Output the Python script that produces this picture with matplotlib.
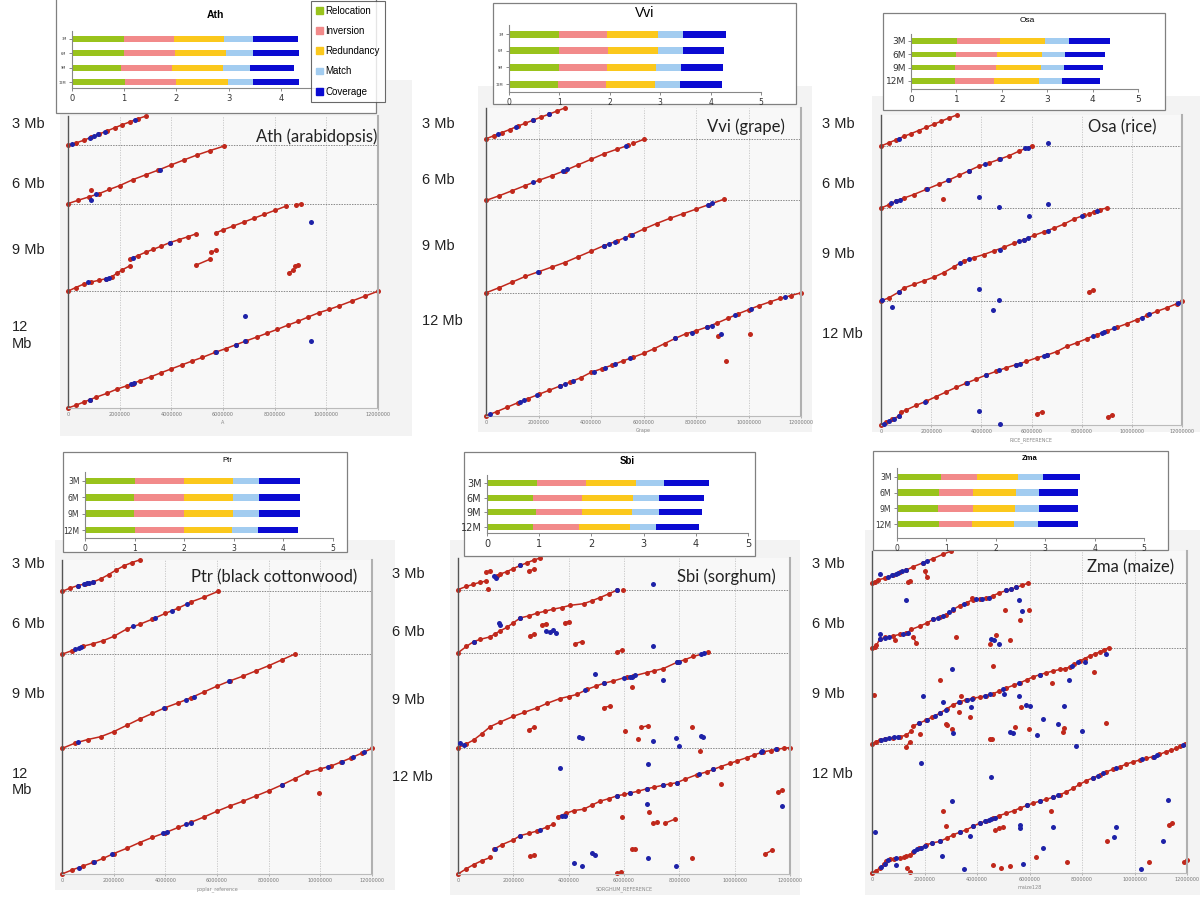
import matplotlib
matplotlib.use('Agg')
import matplotlib.pyplot as plt
from matplotlib.patches import Rectangle, Patch

# ---------------- data ----------------
# dotplot y axis: the four query chunks are stacked, 12 Mb at the bottom
seg_base = {12: 0, 9: 12, 6: 21, 3: 27}

# runs of red alignment dots (segment, [(x Mb, y Mb within segment), ...])
ath_runs = [
    (12, [(0, 0), (0.3, 0.28), (0.6, 0.6), (0.85, 0.86), (1.1, 1.12), (1.5, 1.5), (1.9, 1.95), (2.3, 2.3),
          (2.5, 2.5), (2.8, 2.82), (3.2, 3.2), (3.6, 3.62), (4.0, 4.02), (4.4, 4.42), (4.8, 4.82), (5.2, 5.2),
          (5.7, 5.72), (6.1, 6.1), (6.5, 6.5), (6.9, 6.9), (7.3, 7.28), (7.7, 7.68), (8.1, 8.08), (8.5, 8.5),
          (8.9, 8.9), (9.3, 9.35), (9.7, 9.78), (10.1, 10.12), (10.5, 10.5), (11.0, 11.0), (11.5, 11.5), (12.0, 12.0)]),
    (9, [(0, 0), (0.3, 0.38), (0.6, 0.72), (0.9, 0.95), (1.2, 1.12), (1.48, 1.29), (1.7, 1.5), (1.9, 1.85),
         (2.1, 2.2), (2.39, 2.6)]),
    (9, [(2.39, 3.3), (2.7, 3.65), (3.0, 4.0), (3.3, 4.3), (3.6, 4.62), (3.94, 4.99), (4.3, 5.3), (4.65, 5.6), (4.97, 5.91)]),
    (9, [(5.72, 5.98), (6.0, 6.3), (6.4, 6.7), (6.8, 7.1), (7.2, 7.5), (7.6, 7.9), (8.0, 8.3), (8.45, 8.75)]),
    (9, [(8.84, 8.9), (9.03, 8.95)]),
    (9, [(4.94, 2.66), (5.48, 3.27)]),
    (9, [(5.55, 4.03), (5.74, 4.2)]),
    (9, [(8.55, 1.87), (8.7, 2.14)]),
    (9, [(8.77, 2.55), (8.9, 2.73)]),
    (6, [(0, 0), (0.4, 0.35), (0.8, 0.68), (1.2, 1.02), (1.6, 1.45), (2.0, 1.85), (2.5, 2.45), (3.0, 2.95),
         (3.5, 3.45), (4.0, 3.98), (4.5, 4.5), (5.0, 5.0), (5.5, 5.45), (6.03, 5.9)]),
    (6, [(0.9, 1.43)]),
    (3, [(0, 0), (0.3, 0.22), (0.6, 0.5), (0.9, 0.82), (1.2, 1.15), (1.5, 1.45), (1.8, 1.78), (2.1, 2.1),
         (2.4, 2.4), (2.7, 2.72), (3.03, 3.0)]),
]
ath_blue = [(12, 0.84, 0.85), (12, 2.45, 2.45), (12, 2.55, 2.56), (12, 5.74, 5.76), (12, 6.5, 6.5),
            (12, 6.85, 6.88), (12, 6.86, 9.45), (12, 9.42, 6.88),
            (9, 0.77, 0.9), (9, 1.48, 1.29), (9, 1.6, 1.4), (9, 2.52, 3.4), (9, 3.94, 4.99), (9, 9.42, 7.1),
            (6, 1.1, 1.0), (6, 3.55, 3.5), (6, 0.88, 0.4),
            (3, 0.17, 0.13), (3, 0.85, 0.78), (3, 1.0, 0.95), (3, 1.15, 1.1), (3, 1.45, 1.4), (3, 2.6, 2.62)]

vvi_runs = [
    (12, [(0, 0), (0.4, 0.42), (0.8, 0.85), (1.2, 1.28), (1.6, 1.7), (2.0, 2.1), (2.4, 2.5), (2.8, 2.9),
          (3.2, 3.3), (3.6, 3.72), (4.0, 4.25), (4.4, 4.6), (4.8, 4.95), (5.2, 5.35), (5.6, 5.72), (6.0, 6.1),
          (6.4, 6.55), (6.8, 7.05), (7.2, 7.55), (7.6, 8.0), (8.0, 8.3), (8.4, 8.65), (8.8, 9.05), (9.2, 9.5),
          (9.6, 9.95), (10.0, 10.35), (10.4, 10.75), (10.8, 11.1), (11.2, 11.45), (11.6, 11.72), (12.0, 12.0)]),
    (12, [(8.85, 7.8)]), (12, [(9.15, 5.39)]), (12, [(10.04, 8.0)]),
    (9, [(0, 0), (0.5, 0.5), (1.0, 1.05), (1.5, 1.6), (2.0, 2.05), (2.5, 2.5), (3.0, 2.95), (3.5, 3.5),
         (4.0, 4.05), (4.5, 4.6), (5.0, 5.05), (5.5, 5.6), (6.0, 6.2), (6.5, 6.75), (7.0, 7.25), (7.5, 7.7),
         (8.0, 8.15), (8.5, 8.6), (9.05, 9.1)]),
    (6, [(0, 0), (0.5, 0.45), (1.0, 0.95), (1.5, 1.45), (2.0, 1.95), (2.5, 2.4), (3.0, 2.9), (3.5, 3.45),
         (4.0, 4.0), (4.5, 4.55), (5.0, 5.0), (5.4, 5.35)]),
    (6, [(5.6, 5.55), (6.03, 5.96)]),
    (3, [(0, 0), (0.3, 0.3), (0.6, 0.6), (0.9, 0.9), (1.2, 1.22), (1.5, 1.52), (1.8, 1.82), (2.1, 2.12),
         (2.4, 2.4), (2.7, 2.7), (3.0, 3.0)]),
]
vvi_blue = [(12, 0.15, 0.15), (12, 1.3, 1.38), (12, 1.45, 1.55), (12, 1.95, 2.05), (12, 2.8, 2.9), (12, 3.0, 3.1),
            (12, 3.3, 3.4), (12, 4.1, 4.3), (12, 4.55, 4.7), (12, 4.9, 5.05), (12, 5.5, 5.65), (12, 7.2, 7.55),
            (12, 7.85, 8.1), (12, 8.4, 8.65), (12, 8.6, 8.8), (12, 9.5, 9.85), (12, 10.1, 10.4), (12, 11.4, 11.6),
            (12, 8.96, 7.97),
            (9, 1.98, 2.05), (9, 4.5, 4.6), (9, 4.7, 4.75), (9, 4.9, 4.95), (9, 5.3, 5.35), (9, 5.55, 5.6),
            (9, 8.45, 8.55), (9, 8.6, 8.7),
            (6, 1.8, 1.75), (6, 2.95, 2.9), (6, 3.1, 3.05), (6, 5.35, 5.3),
            (3, 0.45, 0.45), (3, 1.15, 1.17), (3, 1.8, 1.82), (3, 2.4, 2.42)]

osa_runs = [
    (12, [(0, 0), (0.2, 0.25), (0.45, 0.55), (0.7, 0.85), (0.8, 1.25), (1.0, 1.45), (1.4, 1.9), (1.8, 2.3),
          (2.2, 2.75), (2.6, 3.2), (3.0, 3.65), (3.4, 4.05), (3.8, 4.45), (4.2, 4.85), (4.6, 5.2), (5.0, 5.55),
          (5.4, 5.85), (5.8, 6.15), (6.2, 6.5), (6.6, 6.75), (7.0, 7.1), (7.4, 7.6), (7.8, 7.95), (8.2, 8.35),
          (8.6, 8.75), (9.0, 9.1), (9.4, 9.45), (9.8, 9.8), (10.2, 10.2), (10.6, 10.6), (11.0, 11.0),
          (11.4, 11.35), (11.8, 11.75), (12.0, 12.0)]),
    (12, [(6.2, 1.06), (6.43, 1.29)]), (12, [(9.03, 0.74), (9.19, 0.97)]),
    (9, [(0, 0), (0.3, 0.3), (0.7, 0.85), (0.9, 1.25), (1.3, 1.6), (1.7, 1.95), (2.1, 2.3), (2.5, 2.75),
         (2.9, 3.3), (3.3, 3.9), (3.7, 4.2), (4.1, 4.5), (4.5, 4.85), (4.9, 5.2), (5.3, 5.6), (5.7, 5.95),
         (6.1, 6.35), (6.5, 6.7), (6.9, 7.05), (7.3, 7.45), (7.7, 7.95), (8.1, 8.3)]),
    (9, [(8.3, 8.42), (8.5, 8.65), (8.75, 8.85), (9.0, 9.0)]),
    (9, [(8.3, 0.9), (8.46, 1.06)]),
    (6, [(0, 0), (0.3, 0.3), (0.6, 0.7), (0.9, 0.95), (1.3, 1.3), (1.8, 1.8), (2.3, 2.3), (2.7, 2.7),
         (3.1, 3.15), (3.5, 3.6), (3.9, 4.05), (4.3, 4.35), (4.7, 4.7), (5.1, 5.05), (5.5, 5.5), (6.0, 6.0)]),
    (6, [(2.47, 0.87)]),
    (3, [(0, 0), (0.3, 0.3), (0.6, 0.6), (0.9, 0.92), (1.2, 1.2), (1.5, 1.5), (1.8, 1.8), (2.1, 2.1),
         (2.4, 2.4), (2.7, 2.7), (3.02, 3.0)]),
]
osa_blue = [(12, 0.1, 0.12), (12, 0.3, 0.38), (12, 0.5, 0.62), (12, 0.7, 0.85), (12, 1.75, 2.25), (12, 3.42, 4.07),
            (12, 4.2, 4.85), (12, 4.7, 5.28), (12, 5.4, 5.85), (12, 5.55, 5.95), (12, 6.5, 6.68), (12, 6.6, 6.75),
            (12, 8.45, 8.6), (12, 8.8, 8.95), (12, 8.9, 9.02), (12, 9.3, 9.38), (12, 10.4, 10.4), (12, 10.7, 10.7),
            (12, 11.85, 11.8), (12, 3.91, 1.35), (12, 4.75, 0.06), (12, 0.45, 11.45), (12, 4.48, 11.1),
            (9, 0.05, 0.05), (9, 0.7, 0.86), (9, 3.15, 3.7), (9, 3.5, 4.05), (9, 4.75, 4.95), (9, 5.5, 5.85),
            (9, 5.7, 5.95), (9, 5.85, 6.05), (9, 6.65, 6.82), (9, 8.0, 8.25), (9, 8.6, 8.7),
            (9, 3.89, 1.13), (9, 4.72, 0.06), (9, 5.9, 8.2),
            (6, 0.4, 0.45), (6, 0.6, 0.7), (6, 0.75, 0.8), (6, 1.83, 1.83), (6, 2.69, 2.69), (6, 3.49, 3.6),
            (6, 4.15, 4.24), (6, 4.75, 4.7), (6, 5.75, 5.78), (6, 5.85, 5.85),
            (6, 3.89, 1.1), (6, 4.72, 0.13), (6, 6.64, 0.42),
            (3, 0.7, 0.72), (3, 6.64, 0.3)]

ptr_runs = [
    (12, [(0, 0), (0.4, 0.4), (0.8, 0.75), (1.2, 1.1), (1.6, 1.5), (2.0, 1.95), (2.5, 2.45), (3.0, 3.0),
          (3.5, 3.5), (4.0, 3.95), (4.5, 4.45), (5.0, 4.95), (5.5, 5.45), (6.0, 6.0), (6.5, 6.5), (7.0, 6.95),
          (7.5, 7.45), (8.0, 7.95), (8.5, 8.5), (9.0, 9.1), (9.5, 9.7), (10.0, 10.05), (10.4, 10.3),
          (10.8, 10.7), (11.2, 11.1), (11.6, 11.55), (12.0, 12.0)]),
    (12, [(9.95, 7.74)]),
    (9, [(0, 0), (0.5, 0.5), (1.0, 0.85), (1.5, 1.12), (2.0, 1.6), (2.5, 2.2), (3.0, 2.8), (3.5, 3.35),
         (4.0, 3.9), (4.5, 4.35), (5.0, 4.85), (5.5, 5.4), (6.0, 5.95), (6.5, 6.45), (7.0, 6.9), (7.5, 7.4),
         (8.0, 7.9), (8.5, 8.45), (9.0, 9.0)]),
    (6, [(0, 0), (0.4, 0.35), (0.8, 0.75), (1.2, 1.0), (1.6, 1.3), (2.0, 1.7), (2.5, 2.4), (3.0, 2.85),
         (3.5, 3.35), (4.0, 3.9), (4.5, 4.4), (5.0, 5.0), (5.5, 5.45), (6.04, 6.0)]),
    (3, [(0, 0), (0.3, 0.3), (0.6, 0.55), (0.9, 0.72), (1.2, 0.9), (1.5, 1.2), (1.8, 1.6), (2.1, 2.05),
         (2.4, 2.45), (2.7, 2.75), (3.0, 3.0)]),
]
ptr_blue = [(12, 0.65, 0.6), (12, 1.25, 1.15), (12, 1.95, 1.9), (12, 3.9, 3.88), (12, 4.05, 4.0), (12, 4.8, 4.75),
            (12, 5.0, 4.9), (12, 8.5, 8.5), (12, 10.3, 10.25), (12, 10.85, 10.7), (12, 11.25, 11.15),
            (12, 11.7, 11.65),
            (9, 0.6, 0.6), (9, 3.95, 3.85), (9, 4.8, 4.65), (9, 5.1, 4.95), (9, 6.45, 6.42),
            (6, 0.5, 0.45), (6, 0.65, 0.6), (6, 0.75, 0.7), (6, 2.75, 2.65), (6, 3.6, 3.45), (6, 4.25, 4.15),
            (6, 4.85, 4.8),
            (3, 0.6, 0.55), (3, 0.85, 0.7), (3, 0.95, 0.78), (3, 1.05, 0.85), (3, 1.2, 0.9)]

sbi_runs = [
    (12, [(0, 0), (0.3, 0.5), (0.57, 0.9), (0.85, 1.25), (1.17, 1.57)]),
    (12, [(1.3, 2.35), (1.6, 2.8), (2.0, 3.24), (2.25, 3.65), (2.55, 3.85), (2.85, 4.08), (3.21, 4.45), (3.45, 4.75)]),
    (12, [(3.6, 5.45), (3.9, 5.75), (4.18, 6.02), (4.54, 6.15), (4.85, 6.55), (5.14, 6.92), (5.45, 7.15),
          (5.74, 7.42), (6.0, 7.55), (6.22, 7.69), (6.5, 7.85), (6.82, 8.09), (7.1, 8.25), (7.42, 8.43),
          (7.65, 8.55), (7.9, 8.66), (8.2, 9.0), (8.63, 9.43), (9.0, 9.7), (9.23, 9.93), (9.5, 10.2),
          (9.83, 10.5), (10.1, 10.75), (10.43, 11.04), (10.7, 11.3), (11.03, 11.6), (11.3, 11.72),
          (11.52, 11.84), (11.8, 11.95), (12.0, 12.0)]),
    (12, [(2.59, 1.67), (2.76, 1.8)]), (12, [(5.74, 0.07), (5.88, 0.17)]), (12, [(8.45, 1.5)]),
    (12, [(11.1, 1.9), (11.34, 2.24)]), (12, [(6.28, 2.4), (6.4, 2.42)]), (12, [(5.94, 5.42)]),
    (12, [(6.92, 5.85)]), (12, [(7.06, 4.8), (7.2, 4.9)]), (12, [(7.48, 4.82), (7.85, 5.22)]),
    (12, [(11.58, 7.76), (11.7, 7.93)]), (12, [(9.5, 8.5)]), (12, [(8.75, 11.7)]),
    (9, [(0, 0), (0.3, 0.35), (0.57, 0.73), (0.85, 1.3), (1.17, 2.0), (1.5, 2.4), (2.0, 2.97), (2.4, 3.35),
         (2.85, 3.77), (3.21, 4.19), (3.69, 4.66), (4.0, 4.85), (4.3, 5.05), (4.66, 5.53), (5.0, 5.85),
         (5.26, 6.1), (5.62, 6.33), (6.1, 6.71), (6.34, 6.8), (6.82, 7.12), (7.1, 7.3), (7.42, 7.5),
         (7.9, 8.08), (8.2, 8.35), (8.51, 8.66), (9.05, 9.04)]),
    (9, [(2.55, 1.69), (2.76, 1.92)]), (9, [(6.02, 1.53)]), (9, [(6.5, 0.83)]), (9, [(6.62, 1.92), (6.86, 2.08)]),
    (9, [(8.45, 1.95)]), (9, [(5.26, 3.8), (5.48, 3.93)]), (9, [(6.3, 5.78)]),
    (6, [(0, 0), (0.3, 0.6), (0.57, 1.07), (0.81, 1.28), (1.17, 1.52), (1.35, 1.82), (1.5, 2.05), (1.77, 2.42),
         (2.0, 2.85), (2.25, 3.31), (2.55, 3.5), (2.85, 3.76), (3.15, 3.95), (3.45, 4.15), (3.75, 4.3),
         (4.06, 4.51), (4.54, 4.66), (4.85, 4.95), (5.14, 5.25), (5.45, 5.6), (5.74, 5.94)]),
    (6, [(5.98, 5.94)]), (6, [(2.59, 1.64), (2.76, 1.76)]), (6, [(3.03, 2.66), (3.18, 2.78)]),
    (6, [(3.85, 2.87), (4.0, 2.96)]), (6, [(4.24, 0.87), (4.48, 1.07)]), (6, [(5.76, 0.1), (5.92, 0.25)]),
    (3, [(0, 0), (0.3, 0.3), (0.55, 0.5), (0.81, 0.71), (1.0, 0.8)]),
    (3, [(1.4, 1.3), (1.5, 1.45), (1.77, 1.71), (2.0, 2.0), (2.25, 2.29), (2.5, 2.55), (2.73, 2.8), (2.97, 3.0)]),
    (3, [(1.02, 1.71), (1.17, 1.77)]), (3, [(1.08, 0.09)]), (3, [(2.55, 1.8), (2.76, 1.91)]),
]
sbi_blue = [(12, 1.35, 2.4), (12, 2.25, 3.65), (12, 2.95, 4.15), (12, 3.75, 5.5), (12, 3.85, 5.55), (12, 5.74, 7.42),
            (12, 6.22, 7.69), (12, 6.82, 8.09), (12, 7.42, 8.43), (12, 7.9, 8.66), (12, 8.7, 9.45), (12, 9.23, 9.93),
            (12, 10.95, 11.6), (12, 11.0, 11.7), (12, 11.5, 11.84),
            (12, 4.21, 1.0), (12, 4.48, 0.74), (12, 4.84, 1.97), (12, 4.96, 1.8), (12, 6.86, 1.5), (12, 7.88, 0.74),
            (12, 6.82, 6.6), (12, 11.72, 6.49), (12, 3.69, 10.03), (12, 6.88, 10.4),
            (9, 0.08, 0.4), (9, 0.2, 0.25), (9, 4.6, 5.45), (9, 5.26, 6.1), (9, 6.0, 6.65), (9, 6.2, 6.75),
            (9, 6.3, 6.7), (9, 6.4, 6.85), (9, 7.9, 8.08), (9, 8.0, 8.1), (9, 8.8, 8.9), (9, 8.9, 8.95),
            (9, 4.36, 1.05), (9, 4.49, 0.9), (9, 7.04, 0.67), (9, 7.88, 0.89), (9, 7.97, 0.19), (9, 8.77, 1.12),
            (9, 8.84, 0.99), (9, 4.96, 6.96), (9, 7.4, 6.39),
            (6, 0.57, 1.07), (6, 2.25, 3.35), (6, 5.74, 5.94), (6, 1.47, 2.8), (6, 1.52, 2.6), (6, 3.19, 2.06),
            (6, 3.33, 1.94), (6, 3.45, 2.12), (6, 3.55, 1.88), (6, 7.04, 0.63),
            (3, 1.29, 1.29), (3, 1.38, 1.1), (3, 2.25, 2.35), (3, 7.04, 0.51)]

zma_runs = [
    (12, [(0, 0), (0.15, 0.2), (0.29, 0.46), (0.45, 0.8), (0.55, 1.08), (0.67, 1.3), (0.85, 1.35), (1.05, 1.39),
          (1.2, 1.45), (1.31, 1.55), (1.43, 1.7)]),
    (12, [(1.56, 2.0), (1.8, 2.3), (2.07, 2.63), (2.3, 2.8), (2.58, 2.94), (2.85, 3.25), (3.09, 3.56),
          (3.35, 3.8), (3.59, 4.02), (3.85, 4.35), (4.1, 4.64), (4.35, 4.85), (4.61, 5.11), (4.85, 5.35),
          (5.12, 5.57), (5.4, 5.8), (5.63, 6.04), (5.9, 6.3), (6.13, 6.5), (6.4, 6.7), (6.64, 6.87), (6.9, 7.05),
          (7.15, 7.28), (7.4, 7.55), (7.66, 7.89), (7.9, 8.25), (8.17, 8.61), (8.4, 8.85), (8.67, 9.13),
          (8.9, 9.4), (9.18, 9.66), (9.45, 9.9), (9.69, 10.15), (9.95, 10.35), (10.2, 10.53), (10.45, 10.68),
          (10.7, 10.84), (10.95, 11.05), (11.21, 11.3), (11.4, 11.45), (11.59, 11.6), (11.75, 11.8), (11.91, 12.0)]),
    (12, [(1.33, 0.46)]), (12, [(1.43, 0.06)]), (12, [(2.7, 5.73)]), (12, [(2.81, 4.4)]), (12, [(4.61, 0.77)]),
    (12, [(4.7, 3.96)]), (12, [(4.91, 0.46)]), (12, [(5.27, 0.68)]), (12, [(4.84, 4.18), (5.0, 4.27)]),
    (12, [(6.26, 1.49)]), (12, [(6.81, 5.82)]), (12, [(7.44, 0.99)]), (12, [(8.97, 2.94)]), (12, [(10.55, 0.99)]),
    (12, [(11.3, 4.49), (11.43, 4.64)]), (12, [(11.89, 0.99), (12.0, 1.18)]),
    (9, [(0, 0), (0.15, 0.25), (0.29, 0.38), (0.5, 0.5), (0.8, 0.62), (1.05, 0.69), (1.31, 0.85), (1.5, 1.25)]),
    (9, [(1.56, 1.69), (1.8, 1.95), (2.07, 2.26), (2.3, 2.55), (2.58, 2.88), (2.85, 3.3), (3.09, 3.67),
         (3.35, 3.95), (3.59, 4.14), (3.85, 4.28), (4.1, 4.39), (4.35, 4.52), (4.61, 4.7), (4.85, 4.95),
         (5.12, 5.24), (5.4, 5.5), (5.63, 5.71), (5.9, 6.0), (6.13, 6.27), (6.4, 6.48), (6.64, 6.65),
         (6.9, 6.82), (7.15, 6.96), (7.35, 7.05), (7.53, 7.18), (7.7, 7.45), (7.91, 7.74), (8.1, 7.98),
         (8.29, 8.21), (8.5, 8.42), (8.67, 8.59), (8.85, 8.8), (9.03, 9.0)]),
    (9, [(0.06, 4.61)]), (9, [(1.31, -0.25), (1.43, 0.22)]), (9, [(1.82, 0.94)]), (9, [(2.59, 5.96)]),
    (9, [(2.81, 1.85), (2.86, 1.79)]), (9, [(3.06, 1.38)]), (9, [(3.3, 3.04)]), (9, [(3.38, 4.45)]),
    (9, [(3.75, 2.57)]), (9, [(4.48, 0.53), (4.58, 0.47)]), (9, [(4.61, 7.27)]), (9, [(5.43, 1.63)]),
    (9, [(5.69, 3.45)]), (9, [(5.98, 1.38)]), (9, [(6.86, 5.71)]), (9, [(7.28, 1.1), (7.3, 1.47)]),
    (9, [(8.44, 6.71)]), (9, [(8.9, 1.94)]),
    (6, [(0, 0), (0.1, 0.1), (0.17, 0.22), (0.29, 0.77), (0.5, 0.95), (0.8, 1.08), (1.05, 1.23), (1.31, 1.32),
         (1.5, 1.69), (1.82, 2.0), (2.1, 2.3), (2.32, 2.62), (2.6, 2.85), (2.83, 3.08), (3.09, 3.54), (3.34, 3.91),
         (3.6, 4.2), (3.85, 4.46), (4.1, 4.55), (4.36, 4.62), (4.61, 4.83), (4.85, 5.1), (5.12, 5.32), (5.3, 5.45),
         (5.5, 5.6), (5.7, 5.8), (5.94, 6.0)]),
    (6, [(0.86, 0.71)]), (6, [(1.56, 1.02), (1.69, 0.4)]), (6, [(3.21, 1.02)]), (6, [(3.82, 4.62)]),
    (6, [(4.48, 0.31)]), (6, [(4.71, 1.17)]), (6, [(5.08, 3.48)]), (6, [(5.27, 0.71)]), (6, [(5.65, 2.55)]),
    (6, [(5.98, 3.54)]),
    (3, [(0, 0), (0.1, 0.15), (0.23, 0.31), (0.48, 0.46), (0.8, 0.76), (1.05, 1.01), (1.31, 1.22), (1.56, 1.53),
         (1.94, 1.9), (2.32, 2.29), (2.7, 2.69), (3.02, 3.0)]),
    (3, [(1.37, 0.09), (1.46, 0.21)]), (3, [(2.0, 1.13), (2.1, 0.61)]),
]
zma_blue = [(12, 0.35, 0.55), (12, 0.48, 0.85), (12, 0.6, 1.2), (12, 0.92, 1.37), (12, 1.6, 2.05), (12, 1.7, 2.2),
            (12, 1.85, 2.35), (12, 2.0, 2.55), (12, 2.3, 2.8), (12, 2.58, 2.94), (12, 3.35, 3.8), (12, 3.85, 4.35),
            (12, 4.1, 4.64), (12, 4.3, 4.8), (12, 4.45, 4.95), (12, 4.55, 5.05), (12, 4.7, 5.15), (12, 5.9, 6.3),
            (12, 6.4, 6.7), (12, 6.9, 7.05), (12, 7.1, 7.25), (12, 8.4, 8.85), (12, 8.6, 9.05), (12, 8.8, 9.3),
            (12, 9.3, 9.75), (12, 10.3, 10.58), (12, 10.75, 10.85), (12, 10.85, 10.95), (12, 11.85, 11.95),
            (12, 0.13, 3.78), (12, 0.9, 0.77), (12, 1.85, 10.28), (12, 2.68, 1.55), (12, 3.06, 6.75),
            (12, 3.5, 0.37), (12, 3.75, 3.47), (12, 4.55, 8.92), (12, 5.63, 4.46), (12, 5.63, 4.15),
            (12, 5.75, 0.87), (12, 6.51, 2.32), (12, 6.9, 4.27), (12, 9.22, 3.34), (12, 9.31, 4.27),
            (12, 10.26, 0.37), (12, 11.09, 2.94), (12, 11.28, 6.81),
            (9, 0.35, 0.4), (9, 0.5, 0.5), (9, 0.65, 0.58), (9, 0.85, 0.65), (9, 1.0, 0.68), (9, 1.8, 1.95),
            (9, 2.1, 2.3), (9, 2.4, 2.65), (9, 2.6, 2.9), (9, 2.8, 3.2), (9, 3.3, 3.9), (9, 3.6, 4.15),
            (9, 3.8, 4.25), (9, 4.3, 4.5), (9, 4.5, 4.65), (9, 5.0, 5.1), (9, 5.6, 5.7), (9, 6.4, 6.48),
            (9, 7.6, 7.3), (9, 7.85, 7.7),
            (9, 1.94, 4.51), (9, 2.7, 3.89), (9, 3.06, 7.02), (9, 3.09, 1.0), (9, 3.78, 3.51), (9, 5.02, 4.67),
            (9, 5.27, 1.1), (9, 5.37, 1.0), (9, 5.6, 4.45), (9, 5.88, 3.67), (9, 6.03, 3.57), (9, 6.29, 0.85),
            (9, 6.51, 2.35), (9, 7.09, 1.91), (9, 7.31, 3.6), (9, 7.5, 5.96), (9, 7.76, -0.19), (9, 8.01, 1.25),
            (9, 8.13, 7.65), (9, 8.93, 8.37),
            (6, 0.29, 0.77), (6, 0.48, 0.92), (6, 0.65, 1.0), (6, 1.18, 1.28), (6, 1.38, 1.4), (6, 2.32, 2.62),
            (6, 2.5, 2.75), (6, 2.7, 2.95), (6, 2.95, 3.3), (6, 3.1, 3.55), (6, 3.5, 4.1), (6, 3.95, 4.5),
            (6, 4.2, 4.57), (6, 4.45, 4.65), (6, 5.12, 5.32), (6, 5.3, 5.45), (6, 5.5, 5.6),
            (6, 0.29, 1.23), (6, 1.28, 4.46), (6, 4.55, 0.83), (6, 4.65, 0.68), (6, 4.84, 0.31), (6, 5.59, 4.4),
            (6, 5.73, 3.45),
            (3, 0.6, 0.6), (3, 0.75, 0.72), (3, 0.9, 0.85), (3, 1.0, 0.95), (3, 1.15, 1.1), (3, 1.3, 1.2),
            (3, 1.94, 1.9), (3, 2.1, 2.05), (3, 0.29, 0.86)]

# stacked bar insets, rows top->bottom: 3M, 6M, 9M, 12M
rows = ['3M', '6M', '9M', '12M']
kinds = ['Relocation', 'Inversion', 'Redundancy', 'Match', 'Coverage']
kind_colors = ['#99c31c', '#f28a8a', '#fbc81c', '#a2ccf0', '#0a0ad2']

ath_bars = {'Relocation': [1.0, 1.0, 0.93, 1.02], 'Inversion': [0.95, 0.98, 0.98, 0.97],
            'Redundancy': [0.97, 0.97, 0.99, 0.99], 'Match': [0.54, 0.51, 0.51, 0.49],
            'Coverage': [0.86, 0.88, 0.85, 0.87]}
vvi_bars = {'Relocation': [0.99, 0.99, 0.99, 0.98], 'Inversion': [0.96, 0.98, 0.96, 0.95],
            'Redundancy': [1.0, 0.98, 0.97, 0.97], 'Match': [0.51, 0.5, 0.5, 0.5],
            'Coverage': [0.84, 0.81, 0.82, 0.83]}
osa_bars = {'Relocation': [1.01, 1.0, 0.97, 0.96], 'Inversion': [0.95, 0.89, 0.9, 0.87],
            'Redundancy': [1.0, 0.99, 0.99, 0.98], 'Match': [0.52, 0.51, 0.51, 0.51],
            'Coverage': [0.9, 0.88, 0.85, 0.85]}
ptr_bars = {'Relocation': [1.01, 0.99, 0.99, 1.01], 'Inversion': [0.99, 1.0, 1.0, 0.98],
            'Redundancy': [0.99, 1.0, 1.0, 0.98], 'Match': [0.52, 0.51, 0.52, 0.52],
            'Coverage': [0.83, 0.83, 0.82, 0.81]}
sbi_bars = {'Relocation': [0.96, 0.89, 0.93, 0.89], 'Inversion': [0.93, 0.93, 0.89, 0.88],
            'Redundancy': [0.97, 0.97, 0.95, 0.97], 'Match': [0.53, 0.51, 0.52, 0.49],
            'Coverage': [0.86, 0.86, 0.83, 0.83]}
zma_bars = {'Relocation': [0.89, 0.86, 0.84, 0.86], 'Inversion': [0.72, 0.68, 0.7, 0.66],
            'Redundancy': [0.84, 0.86, 0.85, 0.85], 'Match': [0.5, 0.48, 0.48, 0.49],
            'Coverage': [0.75, 0.79, 0.8, 0.81]}

xtick_names = ['0', '2000000', '4000000', '6000000', '8000000', '10000000', '12000000']

RED = '#c0281c'
BLUE = '#1e22a8'
W, H = 1200, 900

fig = plt.figure(figsize=(W / 100, H / 100), dpi=100)


def frac(l, t, r, b):
    return [l / W, 1 - b / H, (r - l) / W, (b - t) / H]


def box(l, t, r, b, fc, ec='none', lw=0, z=-5):
    fig.add_artist(Rectangle((l / W, 1 - b / H), (r - l) / W, (b - t) / H, transform=fig.transFigure,
                             fc=fc, ec=ec, lw=lw, zorder=z))


def ftext(x, y, s, **kw):
    fig.text(x / W, 1 - y / H, s, **kw)


def dotplot(rect, runs, blue, xlabel):
    ax = fig.add_axes(frac(*rect))
    ax.set_zorder(1)
    ax.set_facecolor('#f8f8f8')
    ax.set_xlim(0, 12)
    ax.set_ylim(0, 30)
    for x in range(2, 12, 2):
        ax.axvline(x, color='#c4c4c4', lw=0.6, ls=(0, (1.5, 1.5)), zorder=0)
    for y in [12, 21, 27]:
        ax.axhline(y, color='#8a8a8a', lw=0.7, ls=(0, (1.5, 1.2)), zorder=0)
    for seg, pts in runs:
        xs = [p[0] for p in pts]
        ys = [seg_base[seg] + p[1] for p in pts]
        ax.plot(xs, ys, '-o', color=RED, lw=1.1, ms=3.6, mew=0, zorder=2, clip_on=False)
    bx = [p[1] for p in blue]
    by = [seg_base[p[0]] + p[2] for p in blue]
    ax.plot(bx, by, 'o', color=BLUE, ms=3.6, mew=0, zorder=3, clip_on=False)
    ax.set_xticks(range(0, 13, 2))
    ax.set_xticklabels(xtick_names, fontsize=3.5, color='#777777')
    ax.set_yticks([0, 12, 21, 27])
    ax.set_yticklabels([])
    ax.tick_params(length=1.5, pad=1.5, color='#999999', width=0.5)
    ax.set_xlabel(xlabel, fontsize=3.5, color='#888888', labelpad=2)
    ax.spines['left'].set_color('#555555')
    ax.spines['left'].set_linewidth(1.0)
    ax.spines['bottom'].set_color('#bbbbbb')
    ax.spines['top'].set_visible(False)
    ax.spines['right'].set_color('#b0b0b0')
    ax.spines['right'].set_linewidth(1.5)
    return ax


def barchart(frame, geom, title, tpos, tsize, tweight, data, ysize, xsize, nticks=6):
    box(*frame, fc='white', ec='#808080', lw=0.9, z=4)
    x0, x5, y3, y12, yaxis = geom
    sp = (y12 - y3) / 3
    ax = fig.add_axes(frac(x0, y3 - 0.55 * sp, x5, yaxis))
    ax.set_zorder(5)
    ax.patch.set_alpha(0)
    ypos = [3, 2, 1, 0]
    left = [0, 0, 0, 0]
    for kind, col in zip(kinds, kind_colors):
        ax.barh(ypos, data[kind], left=left, height=0.42, color=col, lw=0)
        left = [a + b for a, b in zip(left, data[kind])]
    ax.set_xlim(0, 5)
    ax.set_ylim(-(yaxis - y12) / sp, 3.55)
    ax.set_yticks(ypos)
    ax.set_yticklabels(rows, fontsize=ysize, color='#333333')
    ax.set_xticks(range(nticks))
    ax.set_xticklabels([str(i) for i in range(nticks)], fontsize=xsize, color='#333333')
    ax.tick_params(length=2, width=0.6, color='#777777', pad=2)
    for s in ['top', 'right']:
        ax.spines[s].set_visible(False)
    for s in ['left', 'bottom']:
        ax.spines[s].set_color('#888888')
        ax.spines[s].set_linewidth(0.8)
    ftext(tpos[0], tpos[1], title, fontsize=tsize, fontweight=tweight, ha='center', va='center',
          family='Liberation Sans', zorder=6)
    return ax


# light backdrops of the pasted dotplot images
box(60, 80, 412, 436, '#f3f3f3')
box(478, 86, 812, 432, '#f3f3f3')
box(872, 96, 1200, 432, '#f3f3f3')
box(55, 540, 395, 890, '#f3f3f3')
box(450, 540, 800, 895, '#f3f3f3')
box(865, 530, 1200, 895, '#f3f3f3')

dotplot((68, 116, 378, 408), ath_runs, ath_blue, 'A')
dotplot((486, 108, 801, 416), vvi_runs, vvi_blue, 'Grape')
dotplot((881, 115, 1182, 425), osa_runs, osa_blue, 'RICE_REFERENCE')
dotplot((62, 560, 372, 874), ptr_runs, ptr_blue, 'poplar_reference')
dotplot((458, 558, 790, 874), sbi_runs, sbi_blue, 'SORGHUM_REFERENCE')
dotplot((872, 551, 1187, 873), zma_runs, zma_blue, 'maize128')

barchart((56, -2, 376, 113), (72, 333, 39, 82, 88), 'Ath', (215, 15), 7.5, 'bold', ath_bars, 2.5, 6, nticks=5)
barchart((493, 3, 796, 104), (509, 761, 34, 84, 92), 'Vvi', (645, 13), 10, 'normal', vvi_bars, 2.5, 5.5)
barchart((883, 13, 1165, 110), (911, 1138, 41, 81, 89), 'Osa', (1027, 20), 6, 'normal', osa_bars, 6.5, 6.5)
barchart((63, 452, 347, 552), (85, 333, 481, 530, 538), 'Ptr', (227, 461), 5.5, 'normal', ptr_bars, 5.5, 5.5)
barchart((464, 452, 755, 556), (487, 748, 483, 527, 533), 'Sbi', (627, 461), 7, 'bold', sbi_bars, 7, 7)
barchart((873, 451, 1168, 550), (897, 1144, 477, 524, 538), 'Zma', (1030, 459), 5.5, 'bold', zma_bars, 5.5, 5.5)

# legend of the Ath inset
handles = [Patch(color=c, label=k) for k, c in zip(kinds, kind_colors)]
leg = fig.legend(handles=handles, loc='upper left', bbox_to_anchor=(311 / W, 1 - 1 / H),
                 frameon=True, edgecolor='#444444', fancybox=False, labelspacing=1.05, handlelength=0.7,
                 handleheight=0.7, handletextpad=0.3, borderpad=0.5, borderaxespad=0,
                 prop={'family': 'Liberation Sans', 'size': 7})
leg.get_frame().set_linewidth(0.8)
leg.set_zorder(10)

# species titles inside the dotplots
tkw = dict(fontsize=12, family='Lato', ha='right', va='center', color='#222222')
ftext(377, 137, 'Ath (arabidopsis)', **tkw)
ftext(785, 127, 'Vvi (grape)', **tkw)
ftext(1156, 127, 'Osa (rice)', **tkw)
ftext(357, 577, 'Ptr (black cottonwood)', **tkw)
ftext(776, 577, 'Sbi (sorghum)', **tkw)
ftext(1174, 567, 'Zma (maize)', **tkw)

# chunk size labels on the left of each dotplot
lkw = dict(fontsize=10.5, family='Liberation Sans', ha='left', va='center', color='#222222')
for x, ys, labels in [
    (12, [124, 184, 250, 327, 344], ['3 Mb', '6 Mb', '9 Mb', '12', 'Mb']),
    (422, [124, 180, 246, 321], ['3 Mb', '6 Mb', '9 Mb', '12 Mb']),
    (822, [124, 184, 254, 334], ['3 Mb', '6 Mb', '9 Mb', '12 Mb']),
    (12, [564, 624, 694, 774, 790], ['3 Mb', '6 Mb', '9 Mb', '12', 'Mb']),
    (392, [574, 632, 700, 777], ['3 Mb', '6 Mb', '9 Mb', '12 Mb']),
    (812, [564, 624, 694, 774], ['3 Mb', '6 Mb', '9 Mb', '12 Mb']),
]:
    for y, s in zip(ys, labels):
        ftext(x, y, s, **lkw)

fig.savefig('out.png', dpi=100)
